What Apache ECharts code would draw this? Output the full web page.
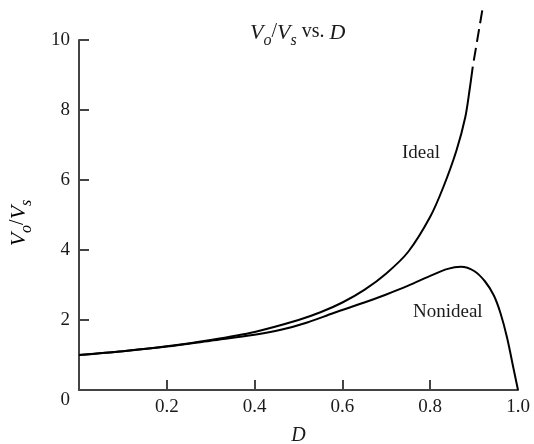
<!DOCTYPE html>
<html>
<head>
<meta charset="utf-8">
<title>Vo/Vs vs. D</title>
<style>
html,body{margin:0;padding:0;background:#fff;}
#main{width:534px;height:444px;}
</style>
<script src="https://cdn.jsdelivr.net/npm/echarts@6/dist/echarts.min.js"></script>
</head>
<body>
<div id="main"></div>
<script>
// values
var idealD = [0, 0.1, 0.2, 0.3, 0.4, 0.5, 0.55, 0.6, 0.65, 0.7, 0.75, 0.8, 0.83, 0.86, 0.88, 0.89, 0.897];
var idealV = [1.0, 1.11, 1.25, 1.43, 1.66, 2.0, 2.22, 2.5, 2.86, 3.33, 3.95, 4.95, 5.8, 6.85, 7.8, 8.6, 9.24];
var idealDashD = [0.897, 0.92];
var idealDashV = [9.24, 10.95];
var nonidealD = [0, 0.1, 0.2, 0.3, 0.4, 0.46, 0.52, 0.58, 0.65, 0.7, 0.75, 0.8, 0.84, 0.87, 0.9, 0.925, 0.945, 0.96, 0.975, 0.99, 1.0];
var nonidealV = [1.0, 1.11, 1.24, 1.41, 1.58, 1.72, 1.93, 2.2, 2.5, 2.73, 2.98, 3.26, 3.46, 3.52, 3.4, 3.1, 2.7, 2.2, 1.5, 0.6, 0];
var xTicks = [0.2, 0.4, 0.6, 0.8];
var xLabels = [0.2, 0.4, 0.6, 0.8, 1.0];
var yTicks = [2, 4, 6, 8, 10];
var yLabels = [0, 2, 4, 6, 8, 10];

function pairs(xs, ys) {
    var out = [];
    for (var i = 0; i < xs.length; i++) out.push([xs[i], ys[i]]);
    return out;
}

var FONT = '"Liberation Serif", "DejaVu Serif", serif';
var INK = '#1a1a1a';
var sym = {
    v:   { fontFamily: FONT, fontStyle: 'italic', fontWeight: 'normal', fontSize: 22, lineHeight: 24, color: INK, verticalAlign: 'top' },
    sub: { fontFamily: FONT, fontStyle: 'italic', fontWeight: 'normal', fontSize: 16, lineHeight: 16, color: INK, verticalAlign: 'top', padding: [11, 0, 0, 0] },
    t:   { fontFamily: FONT, fontWeight: 'normal', fontSize: 20, lineHeight: 24, color: INK, verticalAlign: 'top' }
};

var myChart = echarts.init(document.getElementById('main'), null, { renderer: 'canvas' });

var option = {
    animation: false,
    backgroundColor: '#fff',
    title: {
        text: '{v|V}{sub|o}{t|/}{v|V}{sub|s}{t| vs. }{v|D}',
        left: 250,
        top: 22,
        padding: 0,
        textStyle: { fontWeight: 'normal', fontSize: 20, fontFamily: FONT, rich: sym }
    },
    grid: { left: 79, right: 16, top: 40, bottom: 54, containLabel: false, outerBoundsMode: 'none' },
    xAxis: {
        type: 'value',
        min: 0, max: 1, interval: 0.2,
        name: 'D',
        nameLocation: 'middle',
        nameGap: 36,
        nameTextStyle: { fontFamily: FONT, fontStyle: 'italic', fontSize: 20, color: INK },
        axisLine: { lineStyle: { color: '#444', width: 2 } },
        axisTick: { inside: true, length: 10, customValues: xTicks, lineStyle: { color: '#444', width: 2 } },
        axisLabel: {
            customValues: xLabels,
            margin: 8,
            fontFamily: FONT, fontSize: 19, color: INK,
            formatter: function (v) { return v.toFixed(1); }
        },
        splitLine: { show: false }
    },
    yAxis: {
        type: 'value',
        min: 0, max: 10, interval: 2,
        axisLine: { lineStyle: { color: '#444', width: 2 } },
        axisTick: { inside: true, length: 10, customValues: yTicks, lineStyle: { color: '#444', width: 2 } },
        axisLabel: {
            customValues: yLabels,
            margin: 9,
            fontFamily: FONT, fontSize: 19, color: INK,
            formatter: function (v) { return v === 0 ? '{z|0}' : String(v); },
            rich: { z: { fontFamily: FONT, fontSize: 19, color: INK, padding: [20, 0, 0, 0] } }
        },
        splitLine: { show: false }
    },
    series: [
        {
            name: 'Ideal',
            type: 'line',
            data: pairs(idealD, idealV),
            showSymbol: false,
            smooth: 0.3,
            lineStyle: { color: '#000', width: 2 }
        },
        {
            name: 'Ideal (extended)',
            type: 'line',
            data: pairs(idealDashD, idealDashV),
            showSymbol: false,
            clip: false,
            lineStyle: { color: '#000', width: 2, type: [13, 6], dashOffset: 13 }
        },
        {
            name: 'Nonideal',
            type: 'line',
            data: pairs(nonidealD, nonidealV),
            showSymbol: false,
            smooth: 0.35,
            lineStyle: { color: '#000', width: 2 }
        }
    ],
    graphic: [
        {
            type: 'text', x: 20, y: 223, rotation: Math.PI / 2,
            style: { text: '{v|V}{sub|o}{t|/}{v|V}{sub|s}', align: 'center', verticalAlign: 'middle', rich: sym }
        },
        { type: 'text', left: 402, top: 144, style: { text: 'Ideal', fontFamily: FONT, fontSize: 19, fill: INK } },
        { type: 'text', left: 413, top: 303, style: { text: 'Nonideal', fontFamily: FONT, fontSize: 19, fill: INK } }
    ]
};

myChart.setOption(option);
</script>
</body>
</html>
